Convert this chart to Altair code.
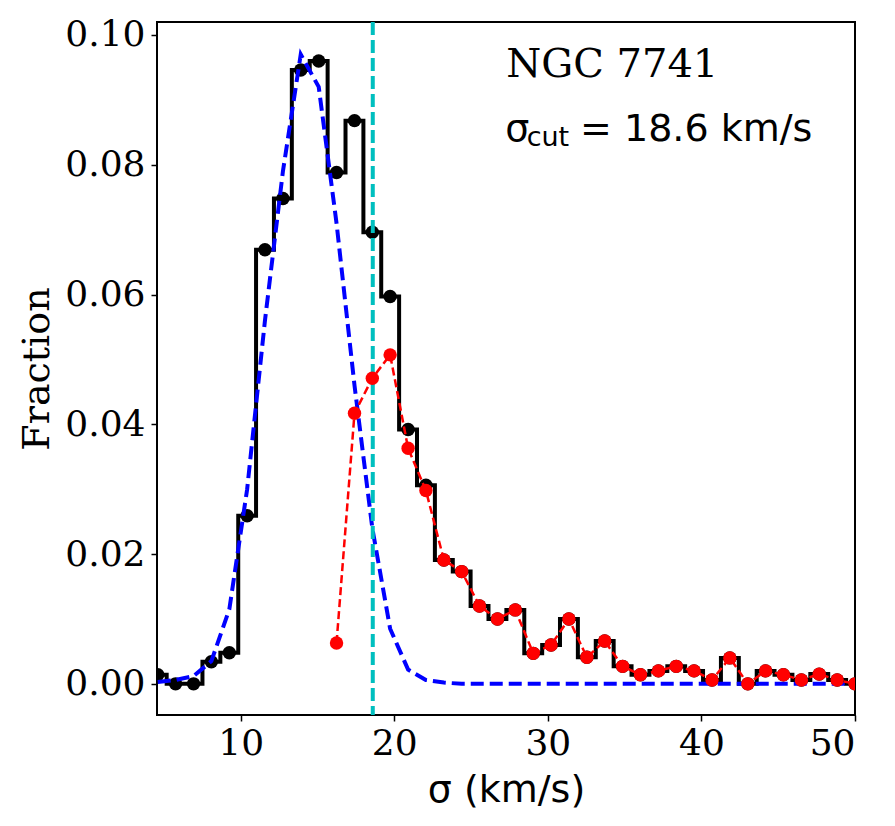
import altair as alt
import pandas as pd

# bin centres (km/s)
sigma = [4.60, 5.76, 6.93, 8.09, 9.26, 10.42, 11.58, 12.75, 13.91, 15.08,
         16.24, 17.41, 18.57, 19.73, 20.90, 22.06, 23.23, 24.39, 25.55, 26.72,
         27.88, 29.05, 30.21, 31.37, 32.54, 33.70, 34.87, 36.03, 37.20, 38.36,
         39.52, 40.69, 41.85, 43.02, 44.18, 45.34, 46.51, 47.67, 48.84, 50.00]

# black histogram (all)
frac_all = [0.0014, 0.0000, 0.0000, 0.0034, 0.0048, 0.0259, 0.0669, 0.0748, 0.0946, 0.0960,
            0.0788, 0.0868, 0.0696, 0.0597, 0.0392, 0.0306, 0.0191, 0.0173, 0.0120, 0.0100,
            0.0114, 0.0047, 0.0060, 0.0100, 0.0041, 0.0066, 0.0027, 0.0014, 0.0020, 0.0027,
            0.0020, 0.0006, 0.0040, 0.0000, 0.0020, 0.0014, 0.0006, 0.0015, 0.0006, 0.0000]

# blue fitted curve
frac_fit = [0.0003, 0.0006, 0.0012, 0.0035, 0.0115, 0.0300, 0.0560, 0.0790, 0.0970, 0.0920,
            0.0710, 0.0460, 0.0240, 0.0085, 0.0022, 0.0006, 0.0002, 0.0000, 0.0000, 0.0000,
            0.0000, 0.0000, 0.0000, 0.0000, 0.0000, 0.0000, 0.0000, 0.0000, 0.0000, 0.0000,
            0.0000, 0.0000, 0.0000, 0.0000, 0.0000, 0.0000, 0.0000, 0.0000, 0.0000, 0.0000]

# red residual (from bin 10 onwards)
sigma_res = sigma[10:]
frac_res = [0.0063, 0.0417, 0.0471, 0.0507, 0.0363, 0.0298, 0.0191, 0.0173, 0.0120, 0.0100,
            0.0114, 0.0047, 0.0060, 0.0100, 0.0041, 0.0066, 0.0027, 0.0014, 0.0020, 0.0027,
            0.0020, 0.0006, 0.0040, 0.0000, 0.0020, 0.0014, 0.0006, 0.0015, 0.0006, 0.0000]

sigma_cut = 18.6
x_ticks = [10, 20, 30, 40, 50]
y_ticks = [0.0, 0.02, 0.04, 0.06, 0.08, 0.10]

df_all = pd.DataFrame({"sigma": sigma, "frac": frac_all})
df_fit = pd.DataFrame({"sigma": sigma, "frac": frac_fit})
df_res = pd.DataFrame({"sigma": sigma_res, "frac": frac_res})
df_cut = pd.DataFrame({"sigma": [sigma_cut]})

SERIF = "DejaVu Serif"
SANS = "DejaVu Sans"

xs = alt.Scale(domain=[4.55, 50], nice=False, zero=False)
ys = alt.Scale(domain=[-0.0048, 0.1020], nice=False, zero=False)

x_enc = alt.X("sigma:Q", scale=xs,
              axis=alt.Axis(values=x_ticks, format="d", title="σ (km/s)",
                            labelFont=SERIF, labelFontSize=36, labelColor="black",
                            titleFont=SANS, titleFontSize=38, titleFontWeight="normal",
                            titleColor="black", tickSize=6, tickWidth=1.5, tickColor="black",
                            domain=False, grid=False, labelPadding=5, titlePadding=10))
y_enc = alt.Y("frac:Q", scale=ys,
              axis=alt.Axis(values=y_ticks, format=".2f", title="Fraction",
                            labelFont=SERIF, labelFontSize=36, labelColor="black",
                            titleFont=SERIF, titleFontSize=38, titleFontWeight="normal",
                            titleColor="black", tickSize=6, tickWidth=1.5, tickColor="black",
                            domain=False, grid=False, labelPadding=6, titlePadding=8))

step = alt.Chart(df_all).mark_line(interpolate="step", color="black", strokeWidth=4,
                                   clip=True).encode(x=x_enc, y=y_enc)
dots = alt.Chart(df_all).mark_circle(color="black", size=180, opacity=1,
                                     clip=True).encode(x="sigma:Q", y="frac:Q")
fit = alt.Chart(df_fit).mark_line(color="#0000FF", strokeWidth=4, strokeDash=[13, 6],
                                  clip=True).encode(x="sigma:Q", y="frac:Q")
cut = alt.Chart(df_cut).mark_rule(color="#00BFBF", strokeWidth=4, strokeDash=[13, 5],
                                  clip=True).encode(x="sigma:Q")
res_line = alt.Chart(df_res).mark_line(color="#FF0000", strokeWidth=2.5, strokeDash=[8, 4],
                                       clip=True).encode(x="sigma:Q", y="frac:Q")
res_dots = alt.Chart(df_res).mark_circle(color="#FF0000", size=180, opacity=1,
                                         clip=True).encode(x="sigma:Q", y="frac:Q")

t_name = alt.Chart(pd.DataFrame({"sigma": [27.29], "frac": [0.0935], "t": ["NGC 7741"]})).mark_text(
    font=SERIF, fontSize=40, align="left", baseline="alphabetic", color="black"
).encode(x="sigma:Q", y="frac:Q", text="t:N")
t_sig = alt.Chart(pd.DataFrame({"sigma": [27.22], "frac": [0.0836], "t": ["σ"]})).mark_text(
    font=SANS, fontSize=38, align="left", baseline="alphabetic", color="black"
).encode(x="sigma:Q", y="frac:Q", text="t:N")
t_sub = alt.Chart(pd.DataFrame({"sigma": [28.62], "frac": [0.0829], "t": ["cut"]})).mark_text(
    font=SANS, fontSize=27, align="left", baseline="alphabetic", color="black"
).encode(x="sigma:Q", y="frac:Q", text="t:N")
t_val = alt.Chart(pd.DataFrame({"sigma": [32.1], "frac": [0.0836], "t": ["= 18.6 km/s"]})).mark_text(
    font=SANS, fontSize=38, align="left", baseline="alphabetic", color="black"
).encode(x="sigma:Q", y="frac:Q", text="t:N")

chart = alt.layer(step, dots, fit, cut, res_line, res_dots, t_name, t_sig, t_sub, t_val).properties(
    width=698, height=693,
    autosize=alt.AutoSizeParams(type="none"),
    padding={"left": 149, "top": 14, "right": 30, "bottom": 100},
    background="white",
).configure_view(stroke="black", strokeWidth=2)

chart.save("out.html", embed_options={"renderer": "svg", "actions": False})
